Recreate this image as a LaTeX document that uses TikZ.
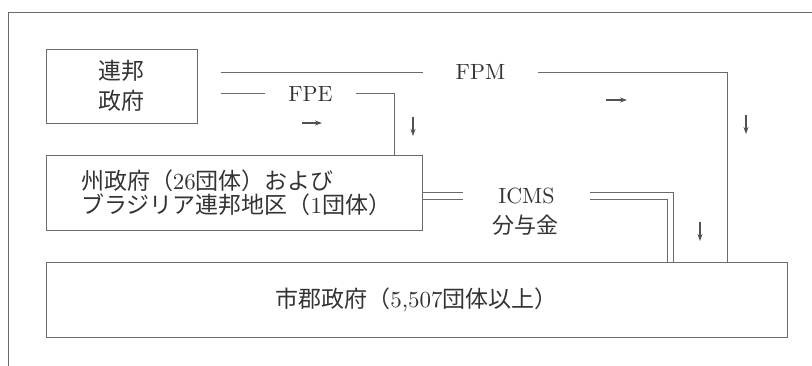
\documentclass[tikz,border=0pt]{standalone}
\usepackage{fontspec}
\setmainfont{lmroman10-regular}[Extension=.otf]
\newfontfamily\cjk{Noto Sans CJK JP}
\usetikzlibrary{arrows.meta,calc}
\definecolor{linegray}{HTML}{6A6A6A}
\definecolor{textgray}{HTML}{333333}
\newcommand\jp[1]{{\cjk #1}}
\begin{document}
\begin{tikzpicture}[x=1pt,y=-1pt,
  ln/.style={draw=linegray,line width=0.9pt},
  box/.style={draw=linegray,line width=0.9pt,inner sep=0pt,text=textgray},
  lbl/.style={text=textgray,font=\fontsize{22}{26}\selectfont,inner sep=0pt},
  arr/.style={draw=textgray!85,line width=1.1pt,-{Stealth[length=7pt,width=5pt]}}]
\useasboundingbox (0,0) rectangle (812,366);
% frame (only top and left edges visible)
\coordinate (fbl) at (8,366);
\coordinate (ftl) at (8,12);
\coordinate (ftr) at (812,12);
\draw[ln] (fbl) -- (ftl) -- (ftr);
% boxes
\node[box,minimum width=151pt,minimum height=74pt,align=center,
      font=\cjk\fontsize{23}{30}\selectfont] (fed) at (121.5,86) {連邦\\政府};
\node[box,minimum height=75pt,align=left,text width=306pt,inner xsep=35pt,
      font=\fontsize{23}{24}\selectfont] (st) at (234,192.5)
  {\jp{州政府（}26\jp{団体）および}\\\jp{ブラジリア連邦地区（}1\jp{団体）}};
\node[box,minimum width=741pt,minimum height=75pt,
      font=\fontsize{23}{26}\selectfont] (mun) at (416.5,299.5)
  {\jp{市郡政府（}5,507\jp{団体以上）}};
% labels
\node[lbl,minimum width=115pt] (fpm) at (480.5,72) {FPM};
\node[lbl,minimum width=91pt] (fpe) at (310.5,93.5) {FPE};
\node[lbl,minimum width=127pt] (icms) at (526.5,196) {ICMS};
\node[lbl,font=\cjk\fontsize{22}{26}\selectfont] (bunyo) at (525.5,225) {分与金};
% FPM route
\coordinate (fpmS) at (221,72);
\coordinate (fpmC) at (727,72);
\draw[ln] (fpmS) -- (fpm.west);
\draw[ln] (fpm.east) -- (fpmC) -- (fpmC |- mun.north);
% FPE route
\coordinate (fpeS) at (221,93.5);
\coordinate (fpeC) at (394,93.5);
\draw[ln] (fpeS) -- (fpe.west);
\draw[ln] (fpe.east) -- (fpeC) -- (fpeC |- st.north);
% ICMS double route
\coordinate (iu) at (0,192);
\coordinate (il) at (0,199);
\coordinate (io) at (673,192);
\coordinate (ii) at (667,199);
\draw[ln] (st.east |- iu) -- (icms.west |- iu);
\draw[ln] (st.east |- il) -- (icms.west |- il);
\draw[ln] (icms.east |- iu) -- (io) -- (io |- mun.north);
\draw[ln] (icms.east |- il) -- (ii) -- (ii |- mun.north);
% direction arrows
\coordinate (a1s) at (302,123); \coordinate (a1e) at (322,123);
\coordinate (a2s) at (413,117); \coordinate (a2e) at (413,136);
\coordinate (a3s) at (606,100); \coordinate (a3e) at (627,100);
\coordinate (a4s) at (746,115); \coordinate (a4e) at (746,134);
\coordinate (a5s) at (700,222); \coordinate (a5e) at (700,241);
\draw[arr] (a1s) -- (a1e);
\draw[arr] (a2s) -- (a2e);
\draw[arr] (a3s) -- (a3e);
\draw[arr] (a4s) -- (a4e);
\draw[arr] (a5s) -- (a5e);
\end{tikzpicture}
\end{document}
